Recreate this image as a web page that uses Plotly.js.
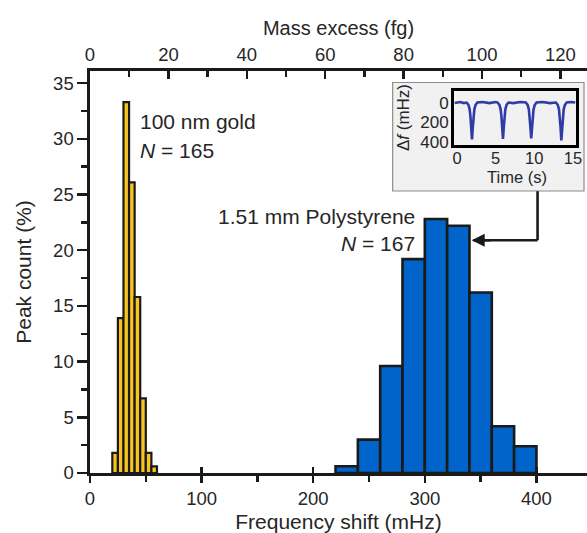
<!DOCTYPE html>
<html>
<head>
<meta charset="utf-8">
<script src="https://cdn.plot.ly/plotly-3.0.1.min.js"></script>
<style>html,body{margin:0;padding:0;background:#fff;}#chart{width:587px;height:533px;}</style>
</head>
<body>
<div id="chart"></div>
<script>
// ---- data ----
const goldBinCenters = [22.5, 27.5, 32.5, 37.5, 42.5, 47.5, 52.5, 57.5];   // mHz
const goldPercent    = [1.8, 13.9, 33.3, 26.1, 15.8, 6.7, 1.8, 0.6];
const psBinCenters   = [230, 250, 270, 290, 310, 330, 350, 370, 390];     // mHz
const psPercent      = [0.6, 3.0, 9.6, 19.2, 22.8, 22.2, 16.2, 4.2, 2.4];

const freqTicks  = [0, 100, 200, 300, 400];
const freqMinor  = [50, 150, 250, 350];
const massTicks  = [0, 20, 40, 60, 80, 100, 120];
const massMinor  = [10, 30, 50, 70, 90, 110];
const pctTicks   = [0, 5, 10, 15, 20, 25, 30, 35];
const pctMinor   = [2.5, 7.5, 12.5, 17.5, 22.5, 27.5, 32.5];

// inset trace: frequency shift vs time
const insetTime = [-0.3, 0.4, 0.9, 1.24, 1.49, 1.64, 1.74, 1.84, 1.94, 2.04, 2.14, 2.24, 2.39, 2.64,
  3.3, 4.2, 5.0, 5.25, 5.5, 5.65, 5.75, 5.85, 5.95, 6.05, 6.15, 6.25, 6.4, 6.65,
  7.3, 8.2, 8.9, 9.15, 9.3, 9.4, 9.5, 9.6, 9.7, 9.8, 9.9, 10.05, 10.3,
  11.1, 12.0, 12.8, 13.05, 13.2, 13.3, 13.4, 13.5, 13.6, 13.7, 13.8, 13.95, 14.2, 14.8, 15.3];
const insetShift = [5, -5, 5, 0, 25, 70, 140, 250, 370, 250, 140, 70, 25, 0,
  -5, 5, -5, 0, 25, 70, 140, 250, 365, 250, 140, 70, 25, 0,
  5, -5, 0, 25, 70, 140, 250, 360, 250, 140, 70, 25, 0,
  -5, 5, 0, 25, 70, 140, 250, 380, 250, 140, 70, 25, 0, -5, 0];
const insetTimeTicks  = [0, 5, 10, 15];
const insetShiftTicks = [0, 200, 400];

const freqRange = [0, 445.3];
const mHzPerFg = 3.5125;
const massRange = [0, freqRange[1] / mHzPerFg];

// ---- styling ----
const FONT = 'Liberation Sans, Arial, Helvetica, sans-serif';
const TXT = '#262626';
const AX = '#1a1a1a';

const traces = [
  {type: 'bar', x: goldBinCenters, y: goldPercent, width: 5,
   marker: {color: '#F7C51E', line: {color: AX, width: 2.2}}, xaxis: 'x', yaxis: 'y',
   hoverinfo: 'skip'},
  {type: 'bar', x: psBinCenters, y: psPercent, width: 20,
   marker: {color: '#0064CA', line: {color: AX, width: 2.6}}, xaxis: 'x', yaxis: 'y',
   hoverinfo: 'skip'},
  // empty traces so the top axis and the inner-tick overlay axis are drawn
  {type: 'scatter', mode: 'lines', x: [], y: [], xaxis: 'x2', yaxis: 'y', hoverinfo: 'skip'},
  {type: 'scatter', mode: 'lines', x: [], y: [], xaxis: 'x4', yaxis: 'y', hoverinfo: 'skip'},
  {type: 'scatter', mode: 'lines', x: insetTime, y: insetShift, xaxis: 'x3', yaxis: 'y3',
   line: {color: '#2F3CA6', width: 2.6}, hoverinfo: 'skip'}
];

const layout = {
  width: 587, height: 533,
  margin: {l: 90, r: 0, t: 71, b: 60},
  paper_bgcolor: '#ffffff', plot_bgcolor: 'rgba(0,0,0,0)',
  showlegend: false, bargap: 0, barmode: 'overlay',
  font: {family: FONT, color: TXT, size: 18},
  xaxis: {
    range: freqRange, tickvals: freqTicks, ticks: 'outside', ticklen: 7, tickwidth: 2.5, tickcolor: AX,
    showline: true, linewidth: 2.6, linecolor: AX, showgrid: false, zeroline: false,
    tickfont: {size: 18.5, color: TXT, family: FONT},
    minor: {tickvals: freqMinor, ticks: 'outside', ticklen: 6, tickwidth: 2.5, tickcolor: AX},
    title: {text: 'Frequency shift (mHz)', font: {size: 21, color: TXT, family: FONT}, standoff: 9}
  },
  xaxis4: {
    overlaying: 'x', anchor: 'y', side: 'bottom', range: freqRange, tickvals: freqTicks.slice(1),
    ticks: 'inside', ticklen: 6, tickwidth: 2.5, tickcolor: AX, showticklabels: false,
    showline: false, showgrid: false, zeroline: false
  },
  xaxis2: {
    overlaying: 'x', anchor: 'y', side: 'top', range: massRange, tickvals: massTicks,
    ticks: 'inside', ticklen: 8, tickwidth: 2.5, tickcolor: AX,
    showline: true, linewidth: 2.6, linecolor: AX, showgrid: false, zeroline: false,
    tickfont: {size: 18.5, color: TXT, family: FONT},
    minor: {tickvals: massMinor, ticks: 'inside', ticklen: 6, tickwidth: 2.5, tickcolor: AX},
    title: {text: 'Mass excess (fg)', font: {size: 20, color: TXT, family: FONT}, standoff: 3}
  },
  yaxis: {
    range: [0, 36.09], tickvals: pctTicks, ticks: 'outside', ticklen: 10, tickwidth: 2.5, tickcolor: AX,
    showline: true, linewidth: 2.6, linecolor: AX, showgrid: false, zeroline: false,
    tickfont: {size: 18.5, color: TXT, family: FONT},
    minor: {tickvals: pctMinor, ticks: 'outside', ticklen: 6, tickwidth: 2.5, tickcolor: AX},
    title: {text: 'Peak count (%)', font: {size: 21, color: TXT, family: FONT}, standoff: 16}
  },
  xaxis3: {
    domain: [0.7324, 0.9779], anchor: 'y3', range: [-0.39, 15.4], tickvals: insetTimeTicks,
    ticks: '', ticklabelstandoff: -4, showline: true, mirror: true, linewidth: 3, linecolor: '#000',
    showgrid: false, zeroline: false,
    tickfont: {size: 16.5, color: TXT, family: FONT}
  },
  yaxis3: {
    domain: [0.816, 0.950], anchor: 'x3', range: [425, -115], tickvals: insetShiftTicks,
    ticks: '', ticklabelstandoff: -1, showline: true, mirror: true, linewidth: 3, linecolor: '#000',
    showgrid: false, zeroline: false,
    tickfont: {size: 17, color: TXT, family: FONT}
  },
  shapes: [
    {type: 'rect', xref: 'paper', yref: 'paper', x0: 0.609, x1: 0.994, y0: 0.7015, y1: 0.9714,
     fillcolor: '#f1f1f1', line: {color: '#8c8c8c', width: 1.2}, layer: 'below'},
    {type: 'line', xref: 'x', yref: 'y', x0: 401, x1: 401, y0: 20.9, y1: 25.3,
     line: {color: AX, width: 2.6}}
  ],
  annotations: [
    {x: 401, y: 20.9, ax: 342, ay: 20.9, xref: 'x', yref: 'y', axref: 'x', ayref: 'y',
     text: '', showarrow: true, arrowhead: 0, arrowwidth: 2.6, arrowcolor: AX, standoff: 0, startstandoff: 0},
    {x: 342, y: 20.9, ax: 360, ay: 20.9, xref: 'x', yref: 'y', axref: 'x', ayref: 'y',
     text: '', showarrow: true, arrowhead: 2, arrowsize: 1, arrowwidth: 2.6, arrowcolor: AX, standoff: 0},
    {x: 0.8585, y: 0.737, xref: 'paper', yref: 'paper', text: 'Time (s)', showarrow: false,
     xanchor: 'center', yanchor: 'middle', borderpad: 0, font: {size: 16.5, color: TXT, family: FONT}},
    {x: 0.6298, y: 0.883, xref: 'paper', yref: 'paper', text: 'Δ<i>f</i> (mHz)', showarrow: false,
     textangle: -90, xanchor: 'center', yanchor: 'middle', borderpad: 0, font: {size: 17, color: TXT, family: FONT}},
    {x: 43.3, y: 31.55, xref: 'x', yref: 'y', text: '100 nm gold', showarrow: false,
     xanchor: 'left', yanchor: 'middle', font: {size: 21, color: TXT, family: FONT}},
    {x: 43.3, y: 28.95, xref: 'x', yref: 'y', text: '<i>N</i> = 165', showarrow: false,
     xanchor: 'left', yanchor: 'middle', font: {size: 21, color: TXT, family: FONT}},
    {x: 292.7, y: 23.0, xref: 'x', yref: 'y', text: '1.51 mm Polystyrene', showarrow: false,
     xanchor: 'right', yanchor: 'middle', font: {size: 21, color: TXT, family: FONT}},
    {x: 292.7, y: 20.6, xref: 'x', yref: 'y', text: '<i>N</i> = 167', showarrow: false,
     xanchor: 'right', yanchor: 'middle', font: {size: 21, color: TXT, family: FONT}}
  ]
};

Plotly.newPlot('chart', traces, layout, {staticPlot: true, displayModeBar: false});
</script>
</body>
</html>
